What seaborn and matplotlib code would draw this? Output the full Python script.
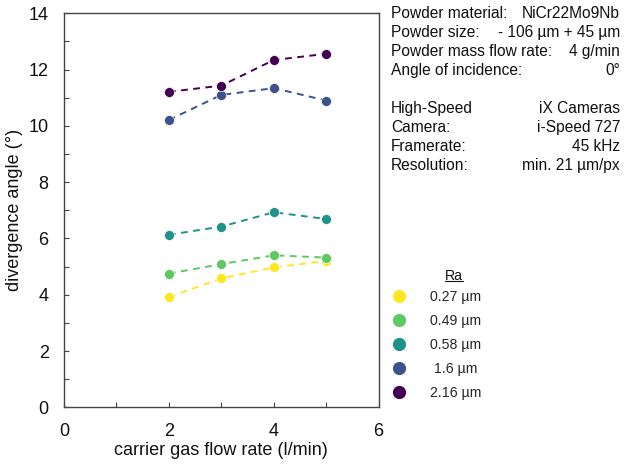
import matplotlib
matplotlib.use("Agg")
import matplotlib.pyplot as plt
from matplotlib.lines import Line2D
import seaborn as sns
import pandas as pd

# Carrier gas flow rates (l/min)
flow_rate = [2, 3, 4, 5]

# Surface roughness Ra of each sample and its divergence angles (deg)
ra_labels = ["0.27 µm", "0.49 µm", "0.58 µm", "1.6 µm", "2.16 µm"]
angle_027 = [3.92, 4.58, 4.97, 5.20]
angle_049 = [4.75, 5.09, 5.40, 5.32]
angle_058 = [6.13, 6.42, 6.93, 6.69]
angle_160 = [10.21, 11.10, 11.34, 10.90]
angle_216 = [11.21, 11.43, 12.34, 12.56]

colors = ["#fde725", "#5ec962", "#21918c", "#3b528b", "#440154"]

x_ticks = [0, 2, 4, 6]
y_ticks = [0, 2, 4, 6, 8, 10, 12, 14]

info_rows = [
    ("Powder material:", "NiCr22Mo9Nb"),
    ("Powder size:", "- 106 µm + 45 µm"),
    ("Powder mass flow rate:", "4 g/min"),
    ("Angle of incidence:", "0°"),
    None,
    ("High-Speed", "iX Cameras"),
    ("Camera:", "i-Speed 727"),
    ("Framerate:", "45 kHz"),
    ("Resolution:", "min. 21 µm/px"),
]

series = [angle_027, angle_049, angle_058, angle_160, angle_216]
frames = []
for label, vals in zip(ra_labels, series):
    frames.append(pd.DataFrame({"flow": flow_rate, "angle": vals, "Ra": label}))
df = pd.concat(frames, ignore_index=True)

sns.set_style("white")
plt.rcParams["font.family"] = ["Liberation Sans", "DejaVu Sans"]

fig = plt.figure(figsize=(6.25, 4.68), dpi=100)
ax = fig.add_axes([0.1024, 0.1297, 0.5035, 0.8419])

sns.lineplot(
    data=df, x="flow", y="angle", hue="Ra", hue_order=ra_labels,
    palette=colors, marker="o", markersize=7.2, markeredgecolor="white",
    markeredgewidth=0.5, linestyle=(0, (3.5, 2.8)), linewidth=1.4,
    legend=False, ax=ax,
)

ax.set_xlim(0, 6)
ax.set_ylim(0, 14)
ax.set_xticks(x_ticks)
ax.set_yticks(y_ticks)
ax.set_xticks([1, 3, 5], minor=True)
ax.set_yticks([1, 3, 5, 7, 9, 11, 13], minor=True)
ax.tick_params(which="both", direction="in", length=3.5, width=0.8,
               color="#444444", labelsize=13, labelcolor="#111111", pad=11)
ax.tick_params(axis="x", which="both", top=False, bottom=True)
ax.tick_params(axis="y", which="both", left=True, right=False)
for s in ax.spines.values():
    s.set_color("#444444")
    s.set_linewidth(1.0)

ax.set_xlabel("carrier gas flow rate (l/min)", fontsize=13, color="#111111", labelpad=2)
ax.set_ylabel("divergence angle (°)", fontsize=13, color="#111111", labelpad=4)

# Info block on the right
y0 = 1 - 13.5 / 468
dy = 19 / 468
row = 0
for item in info_rows:
    if item is not None:
        yy = y0 - row * dy
        fig.text(391 / 625, yy, item[0], ha="left", va="center", fontsize=11.2, color="#111111")
        fig.text(620 / 625, yy, item[1], ha="right", va="center", fontsize=11.2, color="#111111")
    row += 1

# Roughness legend
handles = [Line2D([], [], linestyle="none", marker="o", markersize=9.5,
                  markerfacecolor=c, markeredgecolor="none") for c in colors]
labels = [lab if lab != "1.6 µm" else " 1.6 µm" for lab in ra_labels]
leg = fig.legend(handles, labels, loc="upper left",
                 bbox_to_anchor=(385 / 625, 1 - 290 / 468),
                 frameon=False, fontsize=10.2, handlelength=2.0,
                 handletextpad=1.15, labelspacing=0.70,
                 borderpad=0, borderaxespad=0)

# Underlined legend heading
title = fig.text(454 / 625, 1 - 276 / 468, "Ra", ha="center", va="center",
                 fontsize=10.2, color="#111111")
fig.canvas.draw()
bb = title.get_window_extent().transformed(fig.transFigure.inverted())
fig.add_artist(Line2D([bb.x0, bb.x1], [bb.y0 + 0.004, bb.y0 + 0.004],
                      transform=fig.transFigure, color="#111111", linewidth=0.8))

fig.savefig("out.png", dpi=100)
